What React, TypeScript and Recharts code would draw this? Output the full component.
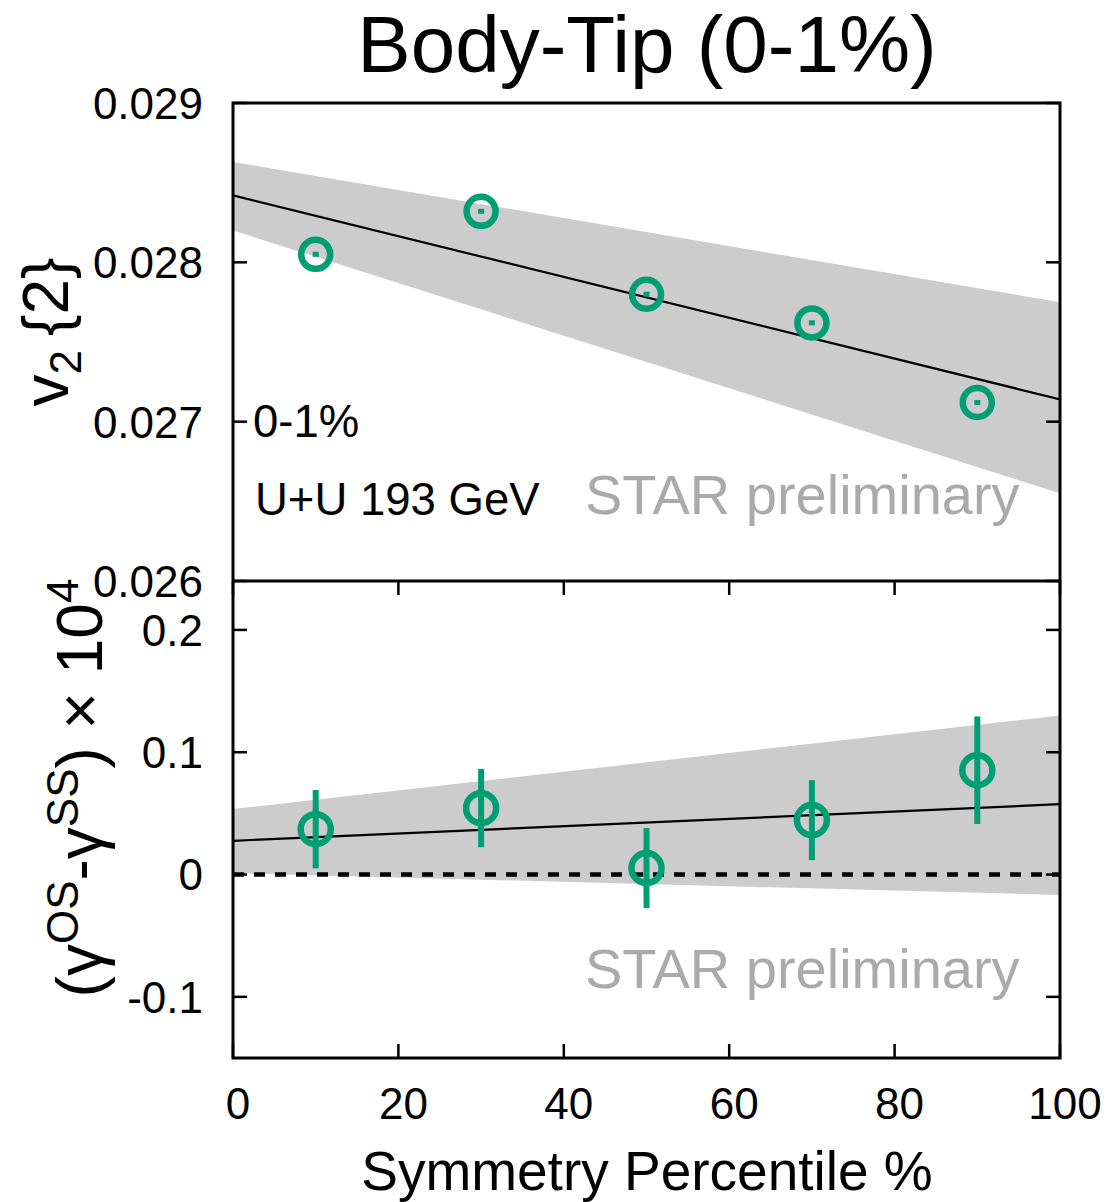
import React from "react";
import {
  ComposedChart,
  Scatter,
  Line,
  Area,
  XAxis,
  YAxis,
  ErrorBar,
  ReferenceLine,
} from "recharts";

// symmetry percentile bins
const percentile = [10, 30, 50, 70, 90];
// top panel: v2{2}
const v2Values = [0.02805, 0.02832, 0.0278, 0.02762, 0.02712];
// bottom panel: (gOS - gSS) x 10^4
const gammaValues = [0.0371, 0.0543, 0.0053, 0.0445, 0.0853];
const gammaErrors = [0.032, 0.032, 0.0327, 0.0327, 0.044];

// linear fits evaluated at the panel edges
const fitX = [0, 100];
const v2Fit = [0.02842, 0.02714];
const v2BandLow = [0.0282, 0.02655];
const v2BandHigh = [0.02863, 0.02775];
const gammaFit = [0.0276, 0.0575];
const gammaBandLow = [0.0012, -0.0167];
const gammaBandHigh = [0.0535, 0.13];

const xTicks = [0, 20, 40, 60, 80, 100];
const v2Ticks = [0.026, 0.027, 0.028, 0.029];
const gammaTicks = [-0.1, 0, 0.1, 0.2];

const GREEN = "#009E73";
const BAND = "#cccccc";
const FONT = "'Liberation Sans', Arial, Helvetica, sans-serif";

const W = 1113;
const PLOT_L = 233;
const PLOT_R = 1060;
const PLOT_W = PLOT_R - PLOT_L;
const TOP_Y0 = 103;
const MID_Y = 581;
const BOT_Y1 = 1058;
const TICK_LEN = 14;

const v2Points = percentile.map((x, i) => ({ x, y: v2Values[i] }));
const gammaPoints = percentile.map((x, i) => ({ x, y: gammaValues[i], err: gammaErrors[i] }));
const v2FitData = fitX.map((x, i) => ({ x, fit: v2Fit[i], band: [v2BandLow[i], v2BandHigh[i]] }));
const gammaFitData = fitX.map((x, i) => ({ x, fit: gammaFit[i], band: [gammaBandLow[i], gammaBandHigh[i]] }));

function fmtY(v: number) {
  if (Math.abs(v) < 1e-9) return "0";
  return String(Number(v.toFixed(3)));
}

function YTick(props: any) {
  const { x, y, payload } = props;
  return (
    <g>
      <line x1={x} x2={x + TICK_LEN} y1={y} y2={y} stroke="#000" strokeWidth={2.5} />
      <line x1={x + PLOT_W - TICK_LEN} x2={x + PLOT_W} y1={y} y2={y} stroke="#000" strokeWidth={2.5} />
      <text x={x - 30} y={y} dy="0.36em" textAnchor="end" fontSize={44} fontFamily={FONT} fill="#000">
        {fmtY(payload.value)}
      </text>
    </g>
  );
}

function XTick(props: any) {
  const { x, y, payload } = props;
  const h = BOT_Y1 - MID_Y;
  return (
    <g>
      <line x1={x} x2={x} y1={y - TICK_LEN} y2={y} stroke="#000" strokeWidth={2.5} />
      <line x1={x} x2={x} y1={y - h} y2={y - h + TICK_LEN} stroke="#000" strokeWidth={2.5} />
      <text x={x + 5} y={y + 61} textAnchor="middle" fontSize={44} fontFamily={FONT} fill="#000">
        {payload.value}
      </text>
    </g>
  );
}

function RingDot(props: any) {
  const { cx, cy } = props;
  return (
    <g>
      <circle cx={cx} cy={cy} r={14.5} fill="none" stroke={GREEN} strokeWidth={6.5} />
      <rect x={cx - 3} y={cy - 2.5} width={6} height={5} fill={GREEN} />
    </g>
  );
}

function Ring(props: any) {
  const { cx, cy } = props;
  return <circle cx={cx} cy={cy} r={15} fill="none" stroke={GREEN} strokeWidth={6.5} />;
}

export default function App() {
  return (
    <div style={{ position: "absolute", left: 0, top: 0, width: W, height: 1202, background: "#fff", fontFamily: FONT }}>
      <div style={{ position: "absolute", left: 0, top: 0 }}>
        <ComposedChart width={W} height={MID_Y + 40} margin={{ top: TOP_Y0, right: W - PLOT_R, bottom: 40, left: 0 }}>
          <XAxis type="number" dataKey="x" domain={[0, 100]} hide height={0} allowDataOverflow />
          <YAxis
            type="number"
            domain={[0.026, 0.029]}
            ticks={v2Ticks}
            width={PLOT_L}
            axisLine={false}
            tickLine={false}
            tickSize={0}
            tickMargin={0}
            allowDataOverflow
            tick={(p: any) => <YTick {...p} />}
          />
          <Area data={v2FitData} dataKey="band" type="linear" fill={BAND} fillOpacity={1} stroke="none" isAnimationActive={false} />
          <Line data={v2FitData} dataKey="fit" type="linear" stroke="#000" strokeWidth={2.2} dot={false} isAnimationActive={false} />
          <Scatter data={v2Points} dataKey="y" shape={RingDot} isAnimationActive={false} />
        </ComposedChart>
      </div>

      <div style={{ position: "absolute", left: 0, top: MID_Y }}>
        <ComposedChart width={W} height={BOT_Y1 - MID_Y + 80} margin={{ top: 0, right: W - PLOT_R, bottom: 0, left: 0 }}>
          <XAxis
            type="number"
            dataKey="x"
            domain={[0, 100]}
            ticks={xTicks}
            height={80}
            axisLine={false}
            tickLine={false}
            tickSize={0}
            tickMargin={0}
            allowDataOverflow
            tick={(p: any) => <XTick {...p} />}
          />
          <YAxis
            type="number"
            domain={[-0.15, 0.24]}
            ticks={gammaTicks}
            width={PLOT_L}
            axisLine={false}
            tickLine={false}
            tickSize={0}
            tickMargin={0}
            allowDataOverflow
            tick={(p: any) => <YTick {...p} />}
          />
          <Area data={gammaFitData} dataKey="band" type="linear" fill={BAND} fillOpacity={1} stroke="none" isAnimationActive={false} />
          <Line data={gammaFitData} dataKey="fit" type="linear" stroke="#000" strokeWidth={2.2} dot={false} isAnimationActive={false} />
          <ReferenceLine y={0} stroke="#000" strokeWidth={4.5} strokeDasharray="11 10" />
          <Scatter data={gammaPoints} dataKey="y" shape={Ring} isAnimationActive={false}>
            <ErrorBar dataKey="err" direction="y" width={0} stroke={GREEN} strokeWidth={6} />
          </Scatter>
        </ComposedChart>
      </div>

      <svg width={W} height={1202} style={{ position: "absolute", left: 0, top: 0, pointerEvents: "none" }} fontFamily={FONT}>
        <rect x={PLOT_L} y={TOP_Y0} width={PLOT_W} height={BOT_Y1 - TOP_Y0} fill="none" stroke="#000" strokeWidth={3} />
        <line x1={PLOT_L} x2={PLOT_R} y1={MID_Y} y2={MID_Y} stroke="#000" strokeWidth={3} />

        <text x={647} y={72} textAnchor="middle" fontSize={80} fill="#000">Body-Tip (0-1%)</text>

        <text transform="translate(68,332) rotate(-90)" textAnchor="middle" fontSize={64} fill="#000">
          v<tspan dy={13} fontSize={44}>2</tspan><tspan dy={-13} dx={14}>{"{2}"}</tspan>
        </text>

        <text transform="translate(102,788) rotate(-90)" textAnchor="middle" fontSize={64} fill="#000">
          (γ<tspan dy={-24} fontSize={44}>OS</tspan><tspan dy={24}>-γ</tspan><tspan dy={-24} fontSize={44}>SS</tspan><tspan dy={24}>) × 10</tspan><tspan dy={-24} fontSize={44}>4</tspan>
        </text>

        <text x={253} y={437} fontSize={45.5} fill="#000">0-1%</text>
        <text x={255} y={515} fontSize={45.5} fill="#000">U+U 193 GeV</text>
        <text x={585} y={514} fontSize={56} fill="#aaaaaa">STAR preliminary</text>
        <text x={585} y={988} fontSize={56} fill="#aaaaaa">STAR preliminary</text>

        <text x={647} y={1190} textAnchor="middle" fontSize={55} fill="#000">Symmetry Percentile %</text>
      </svg>
    </div>
  );
}
